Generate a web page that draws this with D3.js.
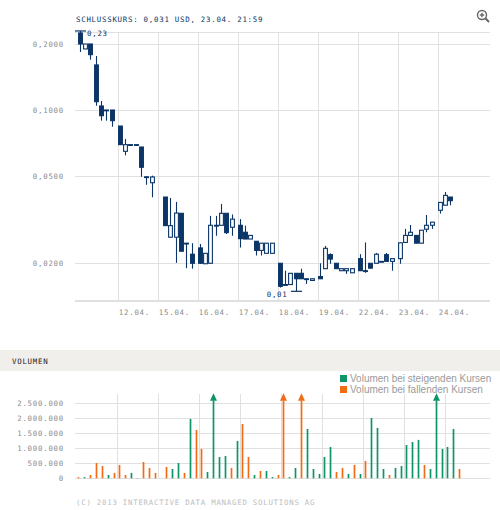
<!DOCTYPE html>
<html>
<head>
<meta charset="UTF-8"/>
<script src="https://d3js.org/d3.v7.min.js"></script>
<title>Schlusskurs</title>
<style>
body { margin:0; background:#fff; }
.px { font-family:'DejaVu Sans Mono', monospace; font-size:7.4px; letter-spacing:0.75px; }
.grid line { stroke:#e0e0e0; stroke-width:1.2; shape-rendering:crispEdges; }
.grid path { display:none; }
.lbl text { fill:#8c8c8c; }
.legend { font-family:'Liberation Sans', Arial, sans-serif; font-size:10px; fill:#9a9a9a; }
</style>
</head>
<body>
<svg id="chart" width="500" height="510"></svg>
<script>
'use strict';

// trading days and number of candles drawn per day
var days = ['11.04.', '12.04.', '15.04.', '16.04.', '17.04.', '18.04.', '19.04.', '22.04.', '23.04.', '24.04.'];
var dayCount = [7, 7, 6, 7, 7, 7, 7, 7, 7, 3];
var dayFirstSlot = [0, 0, 1, 0, 0, 0, 0, 0, 0, 0];

var open = [
	0.2245, 0.1898, 0.2000, 0.1605, 0.1043, 0.1000, 0.1000,
	0.0845, 0.0648, 0.0695, 0.0695, 0.0678, 0.0496, 0.0466,
	0.0401, 0.0263, 0.0263, 0.0338, 0.0247, 0.0220,
	0.0235, 0.0199, 0.0200, 0.0298, 0.0298, 0.0338, 0.0292,
	0.0298, 0.0277, 0.0258, 0.0252, 0.0229, 0.0222, 0.0222,
	0.0200, 0.0160, 0.0160, 0.0180, 0.0180, 0.0170, 0.0167,
	0.0174, 0.0189, 0.0219, 0.0200, 0.0185, 0.0185, 0.0181,
	0.0210, 0.0185, 0.0200, 0.0200, 0.0204, 0.0219, 0.0204,
	0.0210, 0.0249, 0.0268, 0.0268, 0.0247, 0.0286, 0.0298,
	0.0349, 0.0368, 0.0401
];
var high = [
	0.2293, 0.2000, 0.2000, 0.1763, 0.1099, 0.1000, 0.1000,
	0.0845, 0.0738, 0.0695, 0.0695, 0.0678, 0.0496, 0.0502,
	0.0401, 0.0397, 0.0381, 0.0338, 0.0247, 0.0247,
	0.0245, 0.0222, 0.0329, 0.0329, 0.0373, 0.0338, 0.0334,
	0.0318, 0.0297, 0.0268, 0.0252, 0.0247, 0.0247, 0.0247,
	0.0200, 0.0185, 0.0180, 0.0180, 0.0189, 0.0170, 0.0170,
	0.0200, 0.0240, 0.0222, 0.0200, 0.0189, 0.0189, 0.0189,
	0.0220, 0.0249, 0.0200, 0.0223, 0.0204, 0.0223, 0.0210,
	0.0248, 0.0287, 0.0299, 0.0268, 0.0283, 0.0332, 0.0308,
	0.0379, 0.0423, 0.0401
];
var low = [
	0.1839, 0.1898, 0.1696, 0.1046, 0.0894, 0.0894, 0.0839,
	0.0695, 0.0621, 0.0695, 0.0695, 0.0496, 0.0456, 0.0400,
	0.0297, 0.0263, 0.0201, 0.0227, 0.0190, 0.0189,
	0.0199, 0.0199, 0.0200, 0.0267, 0.0298, 0.0272, 0.0267,
	0.0236, 0.0258, 0.0258, 0.0217, 0.0217, 0.0222, 0.0222,
	0.0155, 0.0160, 0.0160, 0.0149, 0.0170, 0.0161, 0.0167,
	0.0170, 0.0189, 0.0199, 0.0189, 0.0185, 0.0179, 0.0181,
	0.0185, 0.0181, 0.0190, 0.0200, 0.0204, 0.0204, 0.0185,
	0.0199, 0.0249, 0.0268, 0.0247, 0.0247, 0.0277, 0.0287,
	0.0337, 0.0368, 0.0368
];
var close = [
	0.2000, 0.2000, 0.1788, 0.1091, 0.0942, 0.1000, 0.0894,
	0.0695, 0.0695, 0.0695, 0.0695, 0.0548, 0.0496, 0.0495,
	0.0297, 0.0297, 0.0339, 0.0227, 0.0247, 0.0200,
	0.0200, 0.0222, 0.0298, 0.0298, 0.0338, 0.0276, 0.0318,
	0.0259, 0.0258, 0.0268, 0.0229, 0.0247, 0.0247, 0.0247,
	0.0157, 0.0160, 0.0180, 0.0170, 0.0170, 0.0170, 0.0170,
	0.0170, 0.0234, 0.0209, 0.0189, 0.0189, 0.0189, 0.0189,
	0.0185, 0.0185, 0.0190, 0.0220, 0.0204, 0.0204, 0.0210,
	0.0248, 0.0268, 0.0277, 0.0247, 0.0283, 0.0298, 0.0308,
	0.0379, 0.0408, 0.0386
];

var volume = [
	40000, 40000, 110000, 510000, 410000, 110000, 180000,
	445000, 110000, 180000, 10000, 545000, 345000, 180000,
	378000, 310000, 510000, 180000, 1980000, 1610000,
	978000, 210000, 3400000, 710000, 745000, 345000, 1245000,
	1810000, 710000, 110000, 245000, 245000, 40000, 110000,
	3900000, 40000, 345000, 3100000, 1645000, 310000, 145000,
	710000, 1045000, 210000, 345000, 145000, 445000, 145000,
	578000, 2010000, 1680000, 310000, 110000, 345000, 410000,
	1110000, 1210000, 1280000, 445000, 310000, 3300000, 978000,
	1045000, 1645000, 310000
];
// 1 = Volumen bei steigenden Kursen, 0 = bei fallenden Kursen
var volUp = [
	0,1,0,0,0,1,0,
	0,0,1,1,0,0,0,
	0,1,1,0,1,0,
	0,1,1,1,1,0,1,
	0,0,1,0,1,1,0,
	0,1,1,0,1,1,1,
	1,1,0,0,1,0,1,
	0,1,1,1,0,1,1,
	1,1,1,0,1,1,1,
	1,1,0
];

var priceTicks = [0.02, 0.05, 0.1, 0.2];
var volTicks = [0, 500000, 1000000, 1500000, 2000000, 2500000];

var headline = 'SCHLUSSKURS: 0,031 USD, 23.04. 21:59';
var footer = '(C) 2013 INTERACTIVE DATA MANAGED SOLUTIONS AG';
var legendLabels = ['Volumen bei steigenden Kursen', 'Volumen bei fallenden Kursen'];

var BLUE = '#0b3567', GREEN = '#0f9468', ORANGE = '#f06d16';

var de = d3.formatLocale({decimal: ',', thousands: '.', grouping: [3], currency: ['', ' USD']});

// build candle table
var data = [];
var k = 0;
days.forEach(function(d, di){
	for (var s = 0; s < dayCount[di]; s++){
		data.push({day: di, slot: dayFirstSlot[di] + s, o: open[k], h: high[k], l: low[k], c: close[k],
			v: volume[k], up: volUp[k]});
		k++;
	}
});

var svg = d3.select('#chart');
var left = 75, right = 490;

// --- price chart ---
var xDayP = d3.scaleLinear().domain([0, 9]).range([78.3, 438.3]);
var xSlotP = d3.scaleLinear().domain([0, 6]).range([1.5, 33.3]);
var yP = d3.scaleLog().domain([0.01346, 0.2261]).range([301, 32.3]);
function cxP(d){ return xDayP(d.day) + xSlotP(d.slot); }

svg.append('text').attr('class', 'px').attr('x', 76).attr('y', 21.7)
	.attr('fill', BLUE).text(headline);

// zoom icon
var icon = svg.append('g').attr('transform', 'translate(482,15)')
	.attr('fill', 'none').attr('stroke', '#666').attr('stroke-width', 1.4);
icon.append('circle').attr('r', 4.5);
icon.append('line').attr('x1', 3.3).attr('y1', 3.3).attr('x2', 7).attr('y2', 7).attr('stroke-width', 2);
icon.append('line').attr('x1', -2.2).attr('x2', 2.2).attr('y1', 0).attr('y2', 0);
icon.append('line').attr('y1', -2.2).attr('y2', 2.2).attr('x1', 0).attr('x2', 0);

// frame lines
svg.append('g').attr('class', 'grid').selectAll('line')
	.data(yP.range()).enter().append('line')
	.attr('x1', left).attr('x2', right)
	.attr('y1', function(d){ return d; }).attr('y2', function(d){ return d; });

svg.append('g').attr('class', 'grid lbl px')
	.attr('transform', 'translate(' + left + ',0)')
	.call(d3.axisLeft(yP).tickValues(priceTicks).tickSize(-(right - left)).tickPadding(11)
		.tickFormat(de.format(',.4f')))
	.call(function(g){ g.selectAll('text').attr('class', 'px').attr('dy', '0.3em'); });

var xAxisP = d3.axisBottom(xDayP).tickValues(d3.range(1, days.length))
	.tickSize(-(yP.range()[0] - yP.range()[1])).tickFormat(function(d){ return days[d]; });
svg.append('g').attr('class', 'grid lbl')
	.attr('transform', 'translate(0,' + yP.range()[0] + ')')
	.call(xAxisP)
	.call(function(g){
		g.selectAll('text').attr('class', 'px').attr('text-anchor', 'start')
			.attr('x', 0).attr('y', 14).attr('dy', 0);
	});

var candles = svg.append('g').selectAll('g').data(data).enter().append('g');

candles.append('line')
	.attr('x1', function(d){ return Math.round(cxP(d)) + 0.5; })
	.attr('x2', function(d){ return Math.round(cxP(d)) + 0.5; })
	.attr('y1', function(d){ return yP(d.h); })
	.attr('y2', function(d){ return yP(d.l); })
	.attr('stroke', BLUE).attr('stroke-width', 1.1);

candles.append('rect')
	.attr('x', function(d){ return Math.round(cxP(d)) + 0.5 - 1.9; })
	.attr('width', 3.8)
	.attr('y', function(d){ return yP(Math.max(d.o, d.c)); })
	.attr('height', function(d){ return Math.max(0.8, Math.abs(yP(d.o) - yP(d.c))); })
	.attr('fill', function(d){ return d.c > d.o ? '#fff' : BLUE; })
	.attr('stroke', BLUE).attr('stroke-width', 1.1);

// high / low markers
var hi = d3.maxIndex(data, function(d){ return d.h; });
var lo = d3.minIndex(data, function(d){ return d.l; });
var hx = Math.round(cxP(data[hi])) + 0.5, lx = Math.round(cxP(data[lo])) + 0.5;
svg.append('line').attr('x1', hx - 5.5).attr('x2', hx + 5.5)
	.attr('y1', yP(data[hi].h)).attr('y2', yP(data[hi].h)).attr('stroke', BLUE).attr('stroke-width', 1.2);
svg.append('text').attr('class', 'px').attr('fill', BLUE)
	.attr('x', hx + 6.5).attr('y', yP(data[hi].h) + 5.3).text(de.format('.2f')(data[hi].h));
svg.append('line').attr('x1', lx - 5.5).attr('x2', lx + 5.5)
	.attr('y1', yP(data[lo].l)).attr('y2', yP(data[lo].l)).attr('stroke', BLUE).attr('stroke-width', 1.2);
svg.append('text').attr('class', 'px').attr('fill', BLUE).attr('text-anchor', 'end')
	.attr('x', lx - 9).attr('y', yP(data[lo].l) + 5.3).text(de.format('.2f')(data[lo].l));

// --- volume chart ---
svg.append('rect').attr('x', 0).attr('y', 350).attr('width', 500).attr('height', 21).attr('fill', '#f0efeb');
svg.append('text').attr('class', 'px').attr('x', 12).attr('y', 364).attr('fill', '#222').text('VOLUMEN');

var legend = svg.append('g').selectAll('g').data(legendLabels).enter().append('g')
	.attr('transform', function(d, i){ return 'translate(340,' + (375 + i * 11) + ')'; });
legend.append('rect').attr('width', 7).attr('height', 7)
	.attr('fill', function(d, i){ return i == 0 ? GREEN : ORANGE; });
legend.append('text').attr('class', 'legend').attr('x', 10).attr('y', 7).text(function(d){ return d; });

var xDayV = d3.scaleLinear().domain([0, 9]).range([76.3, 445.3]);
var xSlotV = d3.scaleLinear().domain([0, 6]).range([1.5, 37.5]);
var yV = d3.scaleLinear().domain([0, 2800000]).range([478.3, 394.3]);
function cxV(d){ return xDayV(d.day) + xSlotV(d.slot); }

svg.append('g').attr('class', 'grid lbl')
	.attr('transform', 'translate(' + left + ',0)')
	.call(d3.axisLeft(yV).tickValues(volTicks).tickSize(-(right - left)).tickPadding(11)
		.tickFormat(de.format(',d')))
	.call(function(g){ g.selectAll('text').attr('class', 'px').attr('dy', '0.3em'); });

svg.append('g').attr('class', 'grid')
	.attr('transform', 'translate(0,' + yV.range()[0] + ')')
	.call(d3.axisBottom(xDayV).tickValues(d3.range(1, days.length))
		.tickSize(-(yV.range()[0] - yV.range()[1])).tickFormat(''));

var vTop = yV.range()[1];
var bars = svg.append('g').selectAll('g').data(data).enter().append('g');
bars.append('line')
	.attr('x1', function(d){ return Math.round(cxV(d)) + 0.5; })
	.attr('x2', function(d){ return Math.round(cxV(d)) + 0.5; })
	.attr('y1', yV(0))
	.attr('y2', function(d){ return Math.max(vTop + 6, yV(d.v)); })
	.attr('stroke', function(d){ return d.up ? GREEN : ORANGE; })
	.attr('stroke-width', 1.7);

// arrows for volumes beyond the scale
bars.filter(function(d){ return d.v > yV.domain()[1]; })
	.append('path')
	.attr('d', function(d){
		var x = Math.round(cxV(d)) + 0.5;
		return 'M' + x + ',' + (vTop - 1) + 'L' + (x + 3.5) + ',' + (vTop + 6.5) + 'L' + (x - 3.5) + ',' + (vTop + 6.5) + 'Z';
	})
	.attr('fill', function(d){ return d.up ? GREEN : ORANGE; });

svg.append('text').attr('class', 'px').attr('x', 76).attr('y', 505).attr('fill', '#bdbdbd').text(footer);
</script>
</body>
</html>
